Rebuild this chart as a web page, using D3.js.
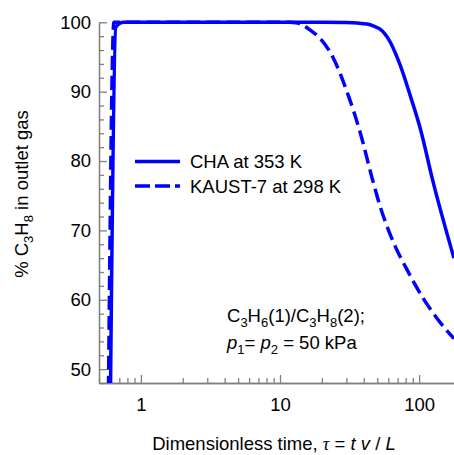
<!DOCTYPE html>
<html>
<head>
<meta charset="utf-8">
<script src="https://cdn.jsdelivr.net/npm/d3@7"></script>
<style>
  body { margin: 0; background: #fff; }
  svg { display: block; font-family: 'Liberation Sans', Arial, sans-serif; }
</style>
</head>
<body>
<svg id="chart" width="454" height="455"></svg>
<script>
// CHA at 353 K (solid)
const tauCHA = [0.605, 0.66, 0.75, 5, 20, 30, 36, 42.3, 46.7, 52.4, 56.9, 61.8, 67.2, 73, 86.1, 101.6, 126, 178]
const pctCHA = [47, 99.3, 100, 100, 100, 99.97, 99.9, 99.75, 99.5, 99.0, 98.3, 97.2, 95.65, 93.85, 89.5, 84.8, 77.0, 66.0]

// KAUST-7 at 298 K (dashed)
const tauK7 = [0.585, 0.64, 5, 11.8, 13.0, 14.6, 16.7, 19.4, 24.1, 30.3, 37.6, 46.7, 52.4, 65, 82, 107, 142, 178]
const pctK7 = [47, 100, 100, 100, 99.95, 99.6, 98.8, 97.7, 94.9, 90.0, 84.2, 77.0, 73.5, 68.4, 64.3, 60.2, 56.7, 54.4]

const yTicks = [50, 60, 70, 80, 90, 100]
const xTicks = [1, 10, 100]
const seriesNames = ['CHA at 353 K', 'KAUST-7 at 298 K']

const margin = { top: 22.3, left: 99, bottom: 383, right: 461 }
const axisColor = '#808080'
const blue = '#0000ff'
const fontSize = 18.5

const svg = d3.select('#chart')

const x = d3.scaleLog().domain([0.5, 200]).range([margin.left, margin.right])
const y = d3.scaleLinear().domain([48, 100]).range([margin.bottom, margin.top])

// minor ticks
const yMinor = d3.range(48, 101, 2).filter(v => v % 10 !== 0)
const xMinor = []
;[0.1, 1, 10, 100].forEach(dec => {
  for (let k = 2; k <= 9; k++) {
    const v = dec * k
    if (v >= 0.5 && v <= 200) xMinor.push(v)
  }
})

const styleAxis = (g) => {
  g.selectAll('path, line').attr('stroke', axisColor).attr('stroke-width', 1.3)
  g.selectAll('text').attr('fill', '#000').attr('font-size', fontSize)
    .attr('font-family', "'Liberation Sans', Arial, sans-serif")
}

svg.append('g')
  .attr('transform', `translate(${margin.left},0)`)
  .call(d3.axisLeft(y).tickValues(yMinor).tickSize(-5).tickSizeOuter(0).tickFormat(''))
  .call(styleAxis)
svg.append('g')
  .attr('transform', `translate(${margin.left},0)`)
  .call(d3.axisLeft(y).tickValues(yTicks).tickSize(-8).tickSizeOuter(0).tickPadding(8))
  .call(styleAxis)

svg.append('g')
  .attr('transform', `translate(0,${margin.bottom})`)
  .call(d3.axisBottom(x).tickValues(xMinor).tickSize(-5).tickSizeOuter(0).tickFormat(''))
  .call(styleAxis)
svg.append('g')
  .attr('transform', `translate(0,${margin.bottom})`)
  .call(d3.axisBottom(x).tickValues(xTicks).tickSize(-8).tickSizeOuter(0).tickPadding(15).tickFormat(d3.format('d')))
  .call(styleAxis)

// curves
svg.append('clipPath').attr('id', 'plotClip')
  .append('rect')
  .attr('x', margin.left).attr('y', 10)
  .attr('width', 460 - margin.left).attr('height', margin.bottom - 10)

const line = d3.line()
  .x(d => x(d[0]))
  .y(d => y(d[1]))
  .curve(d3.curveMonotoneX)

const plotG = svg.append('g').attr('clip-path', 'url(#plotClip)')

plotG.append('path')
  .datum(tauCHA.map((t, i) => [t, pctCHA[i]]))
  .attr('fill', 'none')
  .attr('stroke', blue)
  .attr('stroke-width', 3.5)
  .attr('d', line)

plotG.append('path')
  .datum(tauK7.map((t, i) => [t, pctK7[i]]))
  .attr('fill', 'none')
  .attr('stroke', blue)
  .attr('stroke-width', 3.5)
  .attr('stroke-dasharray', '14,6')
  .attr('d', line)

// legend
const legend = svg.append('g')
seriesNames.forEach((name, i) => {
  const ly = 161.5 + i * 24.5
  legend.append('line')
    .attr('x1', 135).attr('x2', 180)
    .attr('y1', ly).attr('y2', ly)
    .attr('stroke', blue)
    .attr('stroke-width', 3.5)
    .attr('stroke-dasharray', i === 1 ? '15,5' : null)
  legend.append('text')
    .attr('x', 190).attr('y', ly)
    .attr('dominant-baseline', 'central')
    .attr('font-size', fontSize)
    .text(name)
})

// helper for text with subscripts: parts = [[text, 'sub'|'it'|'tau'|null], ...]
const richText = (sel, parts) => {
  let shifted = false
  parts.forEach(([t, kind]) => {
    const ts = sel.append('tspan').text(t)
    if (kind === 'sub') {
      ts.attr('dy', 5).attr('font-size', 13)
      shifted = true
    } else {
      if (shifted) { ts.attr('dy', -5); shifted = false }
      if (kind === 'it') ts.attr('font-style', 'italic')
      if (kind === 'tau') ts.attr('font-style', 'italic').attr('font-family', "'Liberation Serif', 'DejaVu Serif', serif")
    }
  })
}

// annotation
const ann1 = svg.append('text').attr('x', 227).attr('y', 322).attr('font-size', fontSize)
richText(ann1, [['C'], ['3', 'sub'], ['H'], ['6', 'sub'], ['(1)/C'], ['3', 'sub'], ['H'], ['8', 'sub'], ['(2);']])
const ann2 = svg.append('text').attr('x', 227).attr('y', 349).attr('font-size', fontSize)
richText(ann2, [['p', 'it'], ['1', 'sub'], ['= '], ['p', 'it'], ['2', 'sub'], [' = 50 kPa']])

// axis titles
const yTitle = svg.append('text')
  .attr('transform', 'translate(28,194) rotate(-90)')
  .attr('text-anchor', 'middle')
  .attr('font-size', fontSize)
richText(yTitle, [['% C'], ['3', 'sub'], ['H'], ['8', 'sub'], [' in outlet gas']])

const xTitle = svg.append('text')
  .attr('x', 274).attr('y', 450)
  .attr('text-anchor', 'middle')
  .attr('font-size', fontSize)
richText(xTitle, [['Dimensionless time, '], ['τ', 'tau'], [' = '], ['t', 'it'], [' '], ['v', 'it'], [' / '], ['L', 'it']])
</script>
</body>
</html>
